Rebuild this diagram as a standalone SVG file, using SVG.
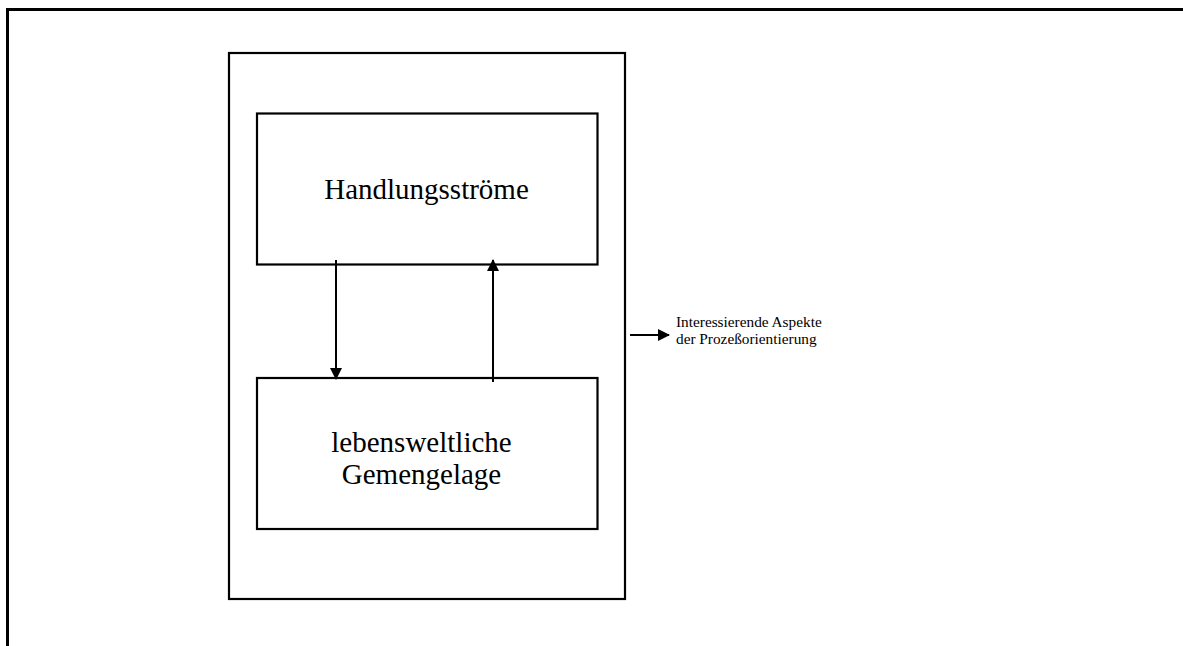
<svg xmlns="http://www.w3.org/2000/svg" width="1183" height="646" viewBox="0 0 1183 646">
<style>
.box{fill:none;stroke:#000;stroke-width:2.2}
.frame{fill:none;stroke:#000;stroke-width:3}
.con{fill:none;stroke:#000;stroke-width:2}
.big{font-family:"Liberation Serif","Times New Roman",serif;font-size:29px;fill:#000;text-anchor:middle}
.small{font-family:"Liberation Serif","Times New Roman",serif;font-size:15.3px;fill:#000}
</style>
<defs>
<marker id="ah" viewBox="0 0 12 12" refX="11" refY="6" markerWidth="12" markerHeight="12" markerUnits="userSpaceOnUse" orient="auto">
<path d="M0,0 L12,6 L0,12 Z" fill="#000"/>
</marker>
</defs>
<rect width="1183" height="646" fill="#fff"/>
<path class="frame" d="M7.5,646 L7.5,9.5 L1183,9.5"/>
<g id="container">
<rect class="box" x="229" y="53" width="396" height="546"/>
</g>
<g id="handlungsstroeme">
<rect class="box" x="257" y="113.5" width="340.5" height="151"/>
<text class="big" x="426.5" y="199">Handlungsströme</text>
</g>
<g id="gemengelage">
<rect class="box" x="257" y="378" width="340.5" height="151"/>
<text class="big" x="421.5" y="452">lebensweltliche</text>
<text class="big" x="421.5" y="484">Gemengelage</text>
</g>
<g id="label">
<text class="small" x="676" y="327">Interessierende Aspekte</text>
<text class="small" x="676" y="344">der Prozeßorientierung</text>
</g>
<g id="connectors">
<line class="con" x1="336" y1="260" x2="336" y2="379" marker-end="url(#ah)"/>
<line class="con" x1="493" y1="382" x2="493" y2="260" marker-end="url(#ah)"/>
<line class="con" x1="630" y1="335" x2="669" y2="335" marker-end="url(#ah)"/>
</g>
</svg>
